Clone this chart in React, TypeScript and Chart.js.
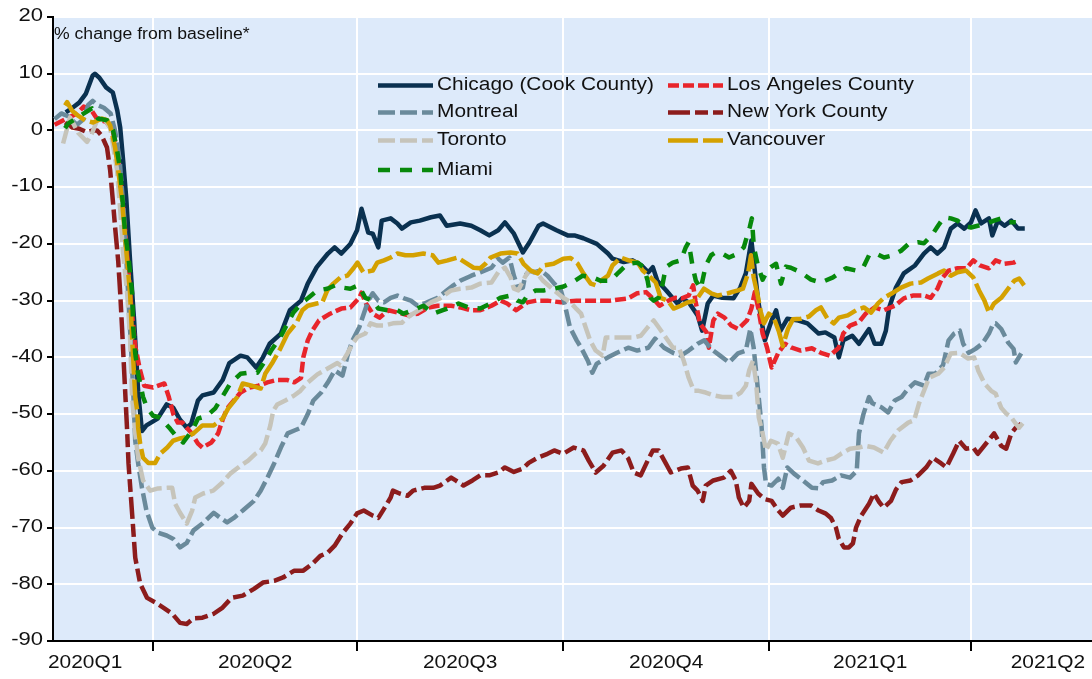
import { useEffect, useRef } from 'react';
import { Chart, registerables } from 'chart.js';

Chart.register(...registerables);

// x values are days counted from 2020-01-01 (day 0)
const quarterStarts = [91, 182, 274, 366, 456];
const quarterBounds = [0, 91, 182, 274, 366, 456, 547];
const quarterLabels = ['2020Q1', '2020Q2', '2020Q3', '2020Q4', '2021Q1', '2021Q2'];
const yTickValues = [20, 10, 0, -10, -20, -30, -40, -50, -60, -70, -80, -90];
const axisNote = '% change from baseline*';

const chicago: [number, number][] = [
  [52, 3.2], [55, 4], [58, 4.9], [61, 6.5], [64, 9.7], [65, 10], [67, 9.3], [70, 7.6], [73, 6.7], [75, 3.5],
  [76.3, 0.5], [77.6, -5.3], [79, -12], [80.7, -23], [82.5, -33.5], [84.3, -46], [86, -53], [88, -52],
  [93, -50.8], [97, -48.3], [100, -48.9], [103, -51], [106, -52.4], [108, -51.7], [111, -47.6], [113, -46.7],
  [118, -46.2], [122, -44], [125, -41], [130, -39.7], [133, -40], [137, -41.8], [140, -40], [143, -37.6],
  [148, -35.8], [152, -31.7], [157, -30], [160, -27], [164, -24.1], [169, -21.7], [172, -20.6], [175, -21.7],
  [179, -20], [182, -17.6], [184, -13.8], [187, -18], [189, -18.2], [191.5, -20.6], [193, -15.9], [197, -15.5],
  [200, -16.4], [202, -17.3], [206, -16.2], [210, -15.9], [215, -15.3], [219, -15], [222, -16.8], [228, -16.4],
  [233, -16.8], [237, -17.6], [241, -18.5], [245, -17.6], [248, -16.2], [252, -18.2], [256, -21.5], [259, -19.7],
  [263, -16.8], [265, -16.4], [271, -17.6], [276, -18.5], [279, -18.5], [283, -19], [289, -20], [294, -21.7],
  [296, -22.6], [301, -23.2], [305, -22.9], [309, -23.8], [312, -25], [314, -24.1], [316, -26.5], [320, -28.2],
  [323, -29.6], [325, -30.5], [327, -29.6], [330, -30.3], [334, -32.6], [336, -35.3], [338.5, -30.5], [341, -29.1],
  [345, -29.5], [350, -29.6], [353, -27.7], [355.5, -25.2], [357, -21.7], [358, -19.4], [359, -22.9], [361, -30],
  [364, -37], [367, -33.5], [369, -31.7], [371, -35.3], [374, -33.2], [379, -33.5], [383, -34], [388, -35.8],
  [391, -35.6], [395, -36.5], [397, -40], [399, -37], [403, -36.2], [406, -37.6], [410.5, -35], [413, -37.6],
  [416, -37.6], [418, -35.3], [419.5, -31.2], [422.5, -27.7], [426, -25.2], [431, -23.8], [435, -21.7], [438, -20.6],
  [441, -21.7], [444, -20.6], [447, -17.3], [450, -16.4], [453, -17.3], [456, -16.2], [458, -14.1], [460.5, -16.4],
  [464, -15.5], [465.5, -18.5], [468, -15.9], [471, -16.8], [474, -15.9], [477, -17.3], [480, -17.3],
];

const losAngeles: [number, number][] = [
  [47, 1], [52, 2], [57, 3], [60, 4.2], [63, 3.8], [66, 2], [70, 1.5], [73, 0], [75, -4], [77, -11], [79, -20],
  [81, -30], [83, -38], [85, -42], [87, -45], [91, -45.3], [96, -44.6], [98, -47], [100, -50], [102, -51.5],
  [104, -51.5], [108, -53.3], [111, -55.2], [113, -55.9], [117, -55], [120, -53.4], [122, -51], [124, -49],
  [127, -47.6], [130, -46.2], [134, -45.3], [138, -45], [142, -44.4], [146, -44], [151, -44], [154, -44.4],
  [157, -43.6], [158, -40], [160, -37], [162, -35.3], [165, -33.5], [170, -32.3], [175, -31.4], [179, -31.2],
  [183, -29.5], [184, -28.6], [186, -30.5], [189, -32.3], [192, -33], [196, -31.7], [200, -32.1], [205, -32.6],
  [209, -32.3], [214, -31.2], [218, -30.9], [224, -30.9], [228, -31.2], [233, -31.7], [237, -31.7], [242, -30.9],
  [246, -30], [249, -30.5], [253, -31.7], [258, -30.3], [262, -30], [267, -30], [273, -30.3], [280, -30], [288, -30],
  [295, -30], [303, -29.6], [307, -28.7], [311, -28.5], [315, -30], [317, -30.9], [321, -30], [324, -29.5],
  [327, -29.6], [330, -29.1], [332, -27.3], [333, -30], [335, -34], [338, -35.6], [339, -38.3], [341, -33.5],
  [343, -32.3], [346, -33], [349, -34.4], [352, -35], [356, -33.5], [358, -31.4], [359.5, -28.5], [361, -31.2],
  [363, -35.8], [365, -38.3], [367, -41.8], [370, -39.2], [373, -37.6], [376, -38.3], [380, -38.8], [385, -38.4],
  [389, -39.2], [393, -39.7], [397, -38.3], [399, -35.8], [402, -34.4], [406, -33.8], [409, -32.3], [413, -31.2],
  [417, -31.7], [422, -30.9], [426, -29.6], [430, -29.1], [435, -29.1], [438, -29.5], [441, -27.9], [443, -26.1],
  [446, -24.7], [450, -24.3], [454, -24.3], [457, -22.9], [460, -23.8], [464, -24.3], [467, -22.9], [471, -23.5],
  [475, -23.3], [477, -22.9],
];

const montreal: [number, number][] = [
  [47, 2], [50, 3], [53, 2.5], [57, 1], [60, 2], [62, 4.5], [64, 5.2], [66, 4.5], [69, 4], [72, 3], [74, 0],
  [76, -5], [78, -15], [80, -30], [82, -45], [83, -54.7], [84.3, -58.7], [86, -63], [88, -67], [90.6, -70],
  [93, -70.9], [97, -71.4], [100, -72], [103, -73.5], [106, -72.7], [109, -70.5], [113, -69.3], [118, -67.4],
  [121, -68.3], [124, -69.1], [127, -68.3], [131, -67], [136, -65.3], [139, -63.5], [142, -61.2], [145, -58.7],
  [148, -55.9], [151, -53.4], [154, -52.9], [157, -52.4], [160, -50], [162.5, -47.6], [166, -46.2], [169, -44.4],
  [172, -42.3], [175.5, -43.2], [178, -39.3], [180, -37], [183, -34.7], [185, -32.3], [187, -30], [189, -28.7],
  [191.5, -30], [194, -30.3], [197, -29.5], [200, -29.1], [203, -29.6], [206, -30], [209, -30.9], [212, -30.5],
  [215, -30], [218, -29.5], [222, -28.2], [225, -27.3], [228, -26.5], [233, -25.6], [237, -25], [242, -24.2],
  [245, -22.6], [247, -23.3], [250, -22.4], [252, -25.6], [254, -27.9], [256, -27.7], [257, -25.6], [259, -24.7],
  [261, -25], [264, -24.7], [267, -25.6], [270, -27], [273, -28.2], [275, -31.2], [277, -34.7], [280, -37],
  [282, -38.3], [285, -40.6], [287, -42.7], [289, -41.1], [294, -40], [298, -39.2], [303, -38.3], [307, -38.8],
  [312, -38.3], [315, -36.7], [319, -38.3], [323, -39.2], [326.5, -39.7], [330, -38.8], [334, -37.6], [337, -37],
  [340, -38.5], [344, -39.7], [348, -40.9], [352, -39.3], [355.5, -38.8], [357.5, -35], [359, -38.3], [361, -46],
  [362.5, -52], [363.6, -59.4], [364.5, -62.3], [367, -62.6], [370, -61.4], [372, -63], [374, -59.4], [377, -60.5],
  [381, -61.7], [385, -63], [388, -63.1], [390, -62], [394, -61.7], [398, -60.8], [402, -61.2], [405, -60],
  [406, -53.4], [408, -50], [410.5, -47], [412, -48.1], [416, -48.8], [419, -49.7], [422, -47.6], [425, -47],
  [428, -45.5], [431, -44.4], [435, -45], [437, -42.9], [440, -42.9], [443.5, -41.4], [446, -37], [448.5, -35.8],
  [451, -35.3], [452.5, -37.6], [455, -39.2], [458, -38.5], [461, -37.6], [464, -35.8], [466, -34], [467, -34],
  [469.5, -35], [472.6, -37.4], [475, -38.5], [476, -40.9], [478.4, -39.3],
];

const newYork: [number, number][] = [
  [51.7, 1.4], [55, 0.5], [58, 0.3], [61.5, -0.3], [64, 0], [66, 0], [68, -0.9], [70.4, -3], [71.8, -7],
  [73, -12.3], [74, -17], [75.4, -23], [76.3, -28.7], [77.1, -34.7], [78, -42], [79.4, -53], [80, -58.7],
  [81.6, -67.5], [83, -75.3], [85.2, -79.9], [88.3, -82.4], [92, -83.2], [95.5, -84.1], [99.5, -85.2], [103, -86.8],
  [106, -87], [109, -86], [113, -85.9], [118, -85.2], [122, -84.1], [126, -82.4], [131, -82], [136, -80.8],
  [140, -79.7], [145, -79.4], [149, -78.8], [154, -77.6], [158, -77.6], [162, -76.4], [165.6, -75], [169, -74.4],
  [172, -73.2], [175.5, -71], [179, -69.3], [182, -67.5], [185, -67], [189, -67.9], [191.5, -68.3], [194, -66.7],
  [197, -64.7], [198, -63.5], [201, -64], [204.5, -64.4], [207, -63.5], [212, -63], [216, -63], [219, -62.6],
  [224, -61.2], [226, -61.7], [229.5, -62.6], [233.5, -61.7], [237, -60.8], [241, -60.8], [245, -60.3],
  [248, -59.4], [252, -60.2], [256, -59.6], [258.6, -58.6], [262.6, -57.7], [267, -57], [270, -56.4], [274, -57],
  [278.7, -55.9], [283, -56.4], [285.4, -58.2], [288.5, -60.3], [292, -59.1], [296, -56.8], [300, -56.4],
  [303, -57.8], [305.5, -60.3], [308.6, -60.8], [311.7, -58.2], [314, -56.4], [316.6, -56.4], [319.8, -58.7],
  [322, -60.3], [326.5, -59.6], [329.6, -59.4], [331.8, -62.6], [334, -63.5], [336.3, -65.3], [337.6, -62.6],
  [341, -61.7], [345.7, -61.2], [348.8, -60], [351, -61.7], [352.4, -64.7], [354.6, -66.5], [357, -65.3],
  [358, -62.3], [361, -64], [364, -65], [367, -65.3], [370, -67], [372, -67.9], [375.6, -66.5], [380, -66.1],
  [384.6, -66.1], [388, -67], [391, -67.5], [393.5, -68.3], [395.7, -70], [397, -72], [399.3, -73.5],
  [401.5, -73.5], [403.3, -72.8], [404.7, -70], [407, -67.9], [410.5, -65.8], [412.7, -64], [415, -65.5],
  [417, -66.5], [420.3, -65.3], [422.5, -63.3], [425, -62], [429, -61.7], [432.4, -60.8], [436, -59.4],
  [439, -57.7], [442.7, -58.7], [445, -59.4], [448, -57], [450.7, -54.7], [453.8, -56.1], [457, -55.9], [459, -57],
  [463.7, -54.7], [466.3, -53.4], [469.5, -55.6], [471.7, -56.1], [474, -53.4], [476, -52.4], [478.4, -51.7],
];

const toronto: [number, number][] = [
  [50.8, -2.3], [53.9, 2.3], [57.5, -0.4], [61.5, -2], [63.7, -0.5], [66, 1.8], [68.7, 2.3], [71.8, 0.5],
  [74.9, -7], [76.3, -14], [77.6, -21.7], [79.4, -28.7], [80.7, -36.5], [81.6, -47], [83, -53.4], [84.3, -57.7],
  [86.5, -61.7], [89.7, -63.5], [93.2, -63.1], [97.3, -63], [99.5, -63], [100.8, -65.8], [103, -67.4], [106, -69.3],
  [108.4, -67], [109.8, -64.7], [113.3, -64], [117.8, -63.5], [121.8, -62.1], [125.4, -60.5], [130, -59.1],
  [133.4, -58.2], [136.6, -57], [139, -56.4], [141, -55.2], [143.3, -52], [144.6, -49.4], [146.4, -48.3],
  [150, -47.6], [153.6, -46.8], [156.7, -45.9], [159.8, -44.5], [164.3, -43], [168.7, -42], [173.2, -41],
  [174.6, -41.4], [177.7, -39.3], [180, -37.6], [182.2, -36.4], [185.7, -35.8], [188, -34], [191, -34.4],
  [194, -34.4], [198, -34], [202, -33.9], [204.5, -33], [207, -32.3], [211, -31.4], [215, -30.3], [219, -29.6],
  [224, -28.2], [228, -27.9], [233, -27.7], [237, -27], [242, -26.8], [245, -25], [248, -24.2], [250.5, -25.9],
  [252, -27.9], [254, -28.2], [256, -26.5], [258.6, -24.7], [262, -25], [265, -26.5], [270, -28.2], [274, -29.5],
  [277, -30.2], [280, -31.5], [282, -32.3], [284, -34.7], [286, -37], [288.5, -38.8], [291.6, -39.7], [293, -36.5],
  [296.5, -36.5], [301, -36.5], [305.5, -36.5], [308.6, -36.2], [311.7, -34.7], [314.4, -33.5], [316.6, -34.7],
  [319.8, -36.5], [323, -38.3], [325.6, -38.3], [327.8, -40.6], [330, -43.6], [332.3, -45.9], [334.5, -45.9],
  [337.6, -46.2], [341, -46.7], [345, -47], [350, -47], [353.3, -46.2], [355.5, -45], [357, -42.3], [358.7, -40.6],
  [360, -44], [361.3, -50.6], [363, -53.4], [364.5, -56.4], [366.7, -54.7], [369.8, -55.2], [372, -57.7],
  [374.7, -53.4], [378, -54.1], [381, -55.9], [383.7, -58.2], [387.7, -58.7], [391, -58.2], [395, -57.8], [398, -57],
  [402, -56.1], [406, -55.9], [409, -55.6], [412.7, -55.9], [417, -56.8], [420, -54.7], [423.4, -52.9],
  [428, -51.5], [430.6, -51.1], [432.8, -48.1], [435, -45.9], [437.3, -43.6], [441.3, -42.9], [444, -41.8],
  [447, -39.3], [450.7, -39.2], [454.7, -40.2], [457.4, -40], [459.2, -42.3], [462, -44.6], [465, -45.9],
  [467, -46.4], [469.5, -48.9], [471.7, -49.9], [474, -50.6], [476, -51.7], [477.5, -52.4], [479.3, -51.5],
];

const vancouver: [number, number][] = [
  [51.7, 4.4], [52.6, 5], [54.8, 3.5], [57.5, 2.6], [60.6, 1.8], [64.2, 1.4], [68.2, 2.1], [70.4, 1.8], [71.8, 0.9],
  [74, -3], [75.4, -7], [77.1, -12.3], [78.5, -18.9], [79.4, -23], [80.7, -28.7], [81.6, -36.5], [83, -47],
  [83.9, -49.4], [84.3, -52.4], [85.2, -55.2], [86.5, -57.7], [88.8, -58.6], [91.9, -58.6], [94.1, -57],
  [97.3, -55.9], [99.9, -54.7], [103, -54.3], [106, -54], [109, -53.4], [113, -52], [118, -52], [122, -50.8],
  [124.5, -49], [128.5, -47], [131, -44.6], [135, -45], [139, -45.5], [141, -42.9], [144, -41.1], [147.7, -38.5],
  [151, -35.8], [155, -33.9], [157.6, -31.7], [160, -30.9], [164, -30.5], [166.5, -30.3], [168.7, -28.2],
  [171.4, -27], [174.6, -25.9], [177.7, -25.6], [180.4, -24.3], [182.2, -23.3], [184.8, -25], [189, -24.7],
  [191, -23.3], [194, -22.9], [197, -22.4], [200, -21.7], [203.6, -22], [207, -22], [211.6, -21.7], [215.7, -22],
  [218.3, -23.3], [222.4, -22.9], [226.8, -22.4], [230.4, -23.3], [234, -24.2], [237, -24.3], [239.3, -23.5],
  [241.6, -22.4], [246, -21.7], [250.5, -21.5], [253.6, -21.7], [256.3, -23.5], [259.5, -24.7], [262.6, -25.2],
  [265.3, -23.8], [269.7, -23.5], [274, -22.6], [277.3, -22.5], [280.5, -23.5], [283, -25.2], [286.3, -27],
  [288.5, -27.3], [290.7, -26.5], [294, -25.6], [296, -23.8], [299.7, -22.4], [303.2, -22.9], [307.3, -23.3],
  [309.5, -24.7], [312.2, -25.6], [315.3, -26.8], [317.5, -29.5], [320.7, -30], [323.3, -31.4], [326.5, -30.9],
  [329.6, -30.3], [333.2, -30], [336.8, -27.9], [340, -28.7], [343, -29.1], [347.5, -28.7], [352, -28.2],
  [354.2, -27.9], [356.5, -25.2], [357.8, -22], [359, -25.9], [361, -29.5], [362.2, -32], [363.6, -34],
  [365.8, -32.3], [368, -33], [370.3, -35.5], [372, -38], [374.3, -35], [376.5, -33.3], [380, -33.2],
  [383.7, -32.8], [386.8, -31.7], [389, -31.2], [392, -33.2], [394.8, -34], [397, -33], [401, -32.6],
  [404.7, -31.7], [408.2, -31.2], [411.4, -32.1], [414.5, -30.5], [417.2, -29.5], [421.2, -28.6], [424.8, -27.7],
  [429, -27], [433.7, -26.8], [436.8, -26.1], [441.3, -25.2], [444, -24.7], [447, -25.6], [450, -25],
  [453.8, -24.7], [457, -25.9], [459.6, -28.2], [462, -30], [464, -32.1], [466.3, -30.5], [469.5, -29.5],
  [472.6, -27.9], [475.3, -26.5], [477.5, -26.1], [479.7, -27.3],
];

const miami: [number, number][] = [
  [51.7, 0.4], [53, 1.2], [58.4, 2.6], [63.7, 3.9], [66.4, 2.1], [70.4, 1.8], [73.1, 0], [74.9, -3.5], [76.3, -7],
  [77.6, -13.6], [78.5, -18.2], [79.8, -21.7], [80.7, -25.2], [81.6, -28.7], [82.1, -34.7], [83, -39.3],
  [84.3, -42.9], [86.5, -47], [88.3, -48.9], [91, -50.3], [94, -50.6], [98.6, -52.6], [101.7, -54.1], [104.4, -55],
  [108.4, -52.9], [111, -50.8], [115, -50.3], [118.7, -49], [121.8, -47], [125.4, -44.6], [130, -42.9],
  [133.4, -42.7], [137.5, -42.7], [141, -40.6], [144, -38.6], [147.7, -36.5], [151, -34], [153.6, -32.1],
  [157.6, -30.3], [160.3, -29.5], [164.3, -28.2], [168.7, -27.9], [172.3, -27.3], [175.5, -27.7], [179, -27.9],
  [182.6, -27.3], [185.7, -29.5], [189, -30], [191.5, -31.4], [195.6, -31.7], [200, -31.7], [202.7, -32.3],
  [207, -31.7], [211.6, -30.9], [216, -32.3], [220, -31.7], [223.7, -31.2], [227.3, -30.5], [231.7, -31.2],
  [237, -31.4], [241.6, -30.5], [246, -29.5], [250.5, -29.1], [253.6, -30], [256, -30.3], [258, -29.1],
  [261.7, -28.2], [265.3, -28.2], [269.7, -27.9], [274.2, -27.5], [278, -26.8], [282.7, -25.6], [287.2, -25.9],
  [290.7, -26.5], [295, -26.5], [298.8, -25], [302.8, -23.5], [307.3, -23.3], [310, -24.2], [311.7, -26.5],
  [313, -29.5], [314.4, -30], [316.6, -29.5], [318.4, -27], [319.8, -24.1], [322.9, -23.3], [326.5, -22.9],
  [328.7, -20.6], [330, -19.7], [331.8, -24.1], [333.2, -26.5], [335.4, -27.9], [337.6, -23.8], [340, -22],
  [342, -21.5], [345, -21.7], [348, -22.4], [352, -21.7], [354.6, -20.6], [356.5, -18], [357.3, -17],
  [358.2, -15.5], [359.1, -20.6], [361, -24], [363, -26.3], [365.4, -24.5], [367, -24], [369, -23.5], [371.2, -27],
  [373.4, -24], [375.6, -24.2], [380, -25], [384.6, -26.3], [389, -26.8], [394.4, -25.9], [400.2, -24.3],
  [404.7, -24.7], [407.8, -24.2], [410.5, -22], [413.6, -21.7], [417.2, -22.4], [421.2, -22], [424.8, -21.2],
  [428.4, -19.9], [432.4, -19.7], [435, -19.9], [439, -18.2], [441.3, -16.8], [444, -15.3], [447, -15.5],
  [450, -15.9], [452.5, -16.8], [456, -17.1], [459, -16.8], [463, -16.4], [466.3, -15.9], [469.5, -15.5],
  [473, -16.2], [476, -16.2],
];

const seriesNames = [
  'Chicago (Cook County)', 'Los Angeles County', 'Montreal', 'New York County', 'Toronto', 'Vancouver', 'Miami',
];
const seriesData = [chicago, losAngeles, montreal, newYork, toronto, vancouver, miami];
const seriesColors = ['#0a3150', '#e8252b', '#6a8a9b', '#8c1c1c', '#c6c4ba', '#d4a100', '#07890b'];
const seriesDashes: number[][] = [[], [11, 4], [17, 5], [22, 5, 13, 5], [17, 5], [30, 5], [12, 10]];
// legend placement: column index and row index for each series
const legendCol = [0, 1, 0, 1, 0, 1, 0];
const legendRow = [0, 0, 1, 1, 2, 2, 3];
const legendRowY = [85.5, 112.5, 140.5, 170];

const PLOT_BG = '#ddeafa';
const FONT = '"Liberation Sans", Arial, Helvetica, sans-serif';
const STRETCH = 1.16;
const LINE_W = 4.5;

function drawText(
  ctx: CanvasRenderingContext2D,
  text: string,
  x: number,
  y: number,
  align: CanvasTextAlign,
  size: number,
  sx = STRETCH
) {
  ctx.save();
  ctx.font = `${size}px ${FONT}`;
  ctx.fillStyle = '#111';
  ctx.textBaseline = 'middle';
  ctx.textAlign = align;
  ctx.translate(x, y);
  ctx.scale(sx, 1);
  ctx.fillText(text, 0, 0);
  ctx.restore();
}

const decorPlugin = {
  id: 'decor',
  beforeDraw(chart: any) {
    const { ctx, chartArea: a } = chart;
    ctx.save();
    ctx.fillStyle = '#ffffff';
    ctx.fillRect(0, 0, chart.width, chart.height);
    ctx.fillStyle = PLOT_BG;
    ctx.fillRect(a.left, a.top, a.right - a.left, a.bottom - a.top);
    ctx.restore();
  },
  afterDraw(chart: any) {
    const { ctx, chartArea: a, scales } = chart;
    const xs = scales.x;
    const ys = scales.y;

    // y tick labels
    yTickValues.forEach((v) => {
      drawText(ctx, String(v), 43, ys.getPixelForValue(v) - 1, 'right', 19);
    });

    // quarter labels, centred in each quarter, kept inside the frame
    ctx.save();
    ctx.font = `18px ${FONT}`;
    quarterLabels.forEach((lab, i) => {
      const mid = (xs.getPixelForValue(quarterBounds[i]) + xs.getPixelForValue(quarterBounds[i + 1])) / 2;
      const half = (ctx.measureText(lab).width * STRETCH) / 2;
      let cx = Math.max(mid, a.left - 5 + half);
      cx = Math.min(cx, chart.width - 7 - half);
      drawText(ctx, lab, cx, a.bottom + 22, 'center', 18);
    });
    ctx.restore();

    // unit note
    drawText(ctx, axisNote, a.left + 1, 35, 'left', 16, 1.1);

    // legend
    const colX = [378, 668];
    const lineLen = 55;
    seriesNames.forEach((name, i) => {
      const x0 = colX[legendCol[i]];
      const y = legendRowY[legendRow[i]];
      ctx.save();
      ctx.strokeStyle = seriesColors[i];
      ctx.lineWidth = LINE_W;
      ctx.setLineDash(seriesDashes[i]);
      ctx.beginPath();
      ctx.moveTo(x0, y);
      ctx.lineTo(x0 + lineLen, y);
      ctx.stroke();
      ctx.restore();
      drawText(ctx, name, x0 + lineLen + 4, y, 'left', 18);
    });
  },
};

export default function App() {
  const canvasRef = useRef<HTMLCanvasElement | null>(null);

  useEffect(() => {
    if (!canvasRef.current) return;
    const datasets = seriesData.map((s, i) => ({
      label: seriesNames[i],
      data: s.map(([x, y]) => ({ x, y })),
      borderColor: seriesColors[i],
      backgroundColor: seriesColors[i],
      borderWidth: LINE_W,
      borderDash: seriesDashes[i],
      borderJoinStyle: 'round' as const,
      pointRadius: 0,
      tension: 0,
      fill: false,
      order: seriesNames.length - i,
    }));

    const chart = new Chart(canvasRef.current, {
      type: 'line',
      data: { datasets },
      plugins: [decorPlugin],
      options: {
        animation: false,
        responsive: false,
        devicePixelRatio: 1,
        layout: { padding: { top: 17, right: 0, left: 0, bottom: 0 } },
        plugins: { legend: { display: false }, tooltip: { enabled: false } },
        scales: {
          x: {
            type: 'linear',
            min: 46.3,
            max: 510,
            afterBuildTicks: (s: any) => {
              s.ticks = quarterStarts.map((v) => ({ value: v }));
            },
            afterFit: (s: any) => {
              s.height = 38;
            },
            ticks: { display: false },
            grid: { color: '#ffffff', lineWidth: 2, tickColor: '#000000', tickLength: 10, drawTicks: true },
            border: { color: '#000000', width: 2 },
          },
          y: {
            type: 'linear',
            min: -90,
            max: 20,
            ticks: { display: false, stepSize: 10 },
            afterFit: (s: any) => {
              s.width = 53;
            },
            grid: { color: '#ffffff', lineWidth: 2, tickColor: '#000000', tickLength: 6, drawTicks: true },
            border: { color: '#000000', width: 2 },
          },
        },
      },
    });
    return () => chart.destroy();
  }, []);

  return (
    <div style={{ position: 'absolute', left: 0, top: 0, width: 1092, height: 679, background: '#fff' }}>
      <canvas ref={canvasRef} width={1092} height={679} style={{ display: 'block' }} />
    </div>
  );
}
